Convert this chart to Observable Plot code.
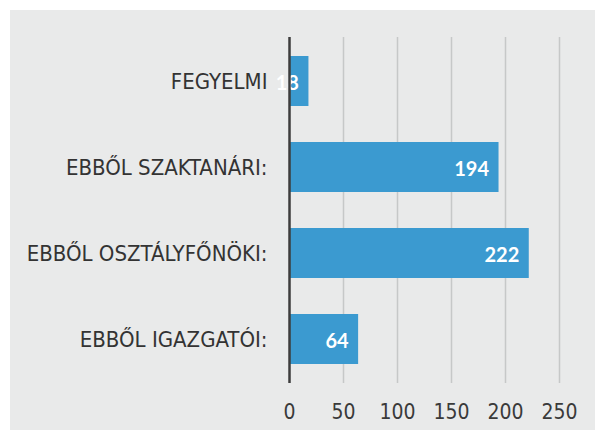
<!DOCTYPE html>
<html><head><meta charset="utf-8">
<script src="https://cdn.jsdelivr.net/npm/d3@7"></script>
<script src="https://cdn.jsdelivr.net/npm/@observablehq/plot@0.6"></script>
<style>
body{margin:0;background:#fff;}
#wrap{padding:10px;width:585px;}
#wrap svg{background:#e9eaea;display:block;}
</style></head>
<body><div id="wrap"></div>
<script>
const categories = ["FEGYELMI", "EBBŐL SZAKTANÁRI:", "EBBŐL OSZTÁLYFŐNÖKI:", "EBBŐL IGAZGATÓI:"];
const values = [18, 194, 222, 64];
const xTicks = [0, 50, 100, 150, 200, 250];
const data = categories.map((c, i) => ({cat: c, v: values[i]}));
const narrow = "'Liberation Sans Narrow', 'DejaVu Sans Condensed', Lato, sans-serif";

const chart = Plot.plot({
  width: 585, height: 420,
  marginLeft: 279, marginRight: 36, marginTop: 27, marginBottom: 47,
  style: {fontFamily: narrow, background: "#e9eaea"},
  x: {domain: [0, 250], ticks: xTicks, label: null},
  y: {domain: categories, paddingInner: 0.42, paddingOuter: 0.21, label: null},
  marks: [
    Plot.ruleX(xTicks.slice(1), {stroke: "#c6c8c8", strokeWidth: 1.5}),
    Plot.barX(data, {x: "v", y: "cat", fill: "#3b9ad0"}),
    Plot.text(data, {x: "v", y: "cat", text: d => String(d.v), textAnchor: "end", dx: -10, dy: 2, fill: "white", fontWeight: "bold", fontSize: 20, fontFamily: "Lato, sans-serif"}),
    Plot.ruleX([0], {stroke: "#3d3d3d", strokeWidth: 2.5}),
    Plot.axisX({ticks: xTicks, tickSize: 0, tickPadding: 21, fontSize: 21, fill: "#3a3a3a", anchor: "bottom"}),
    Plot.axisY({tickSize: 0, tickPadding: 22, fontSize: 22, fill: "#333", anchor: "left"})
  ]
});
document.getElementById("wrap").appendChild(chart);
</script></body></html>
